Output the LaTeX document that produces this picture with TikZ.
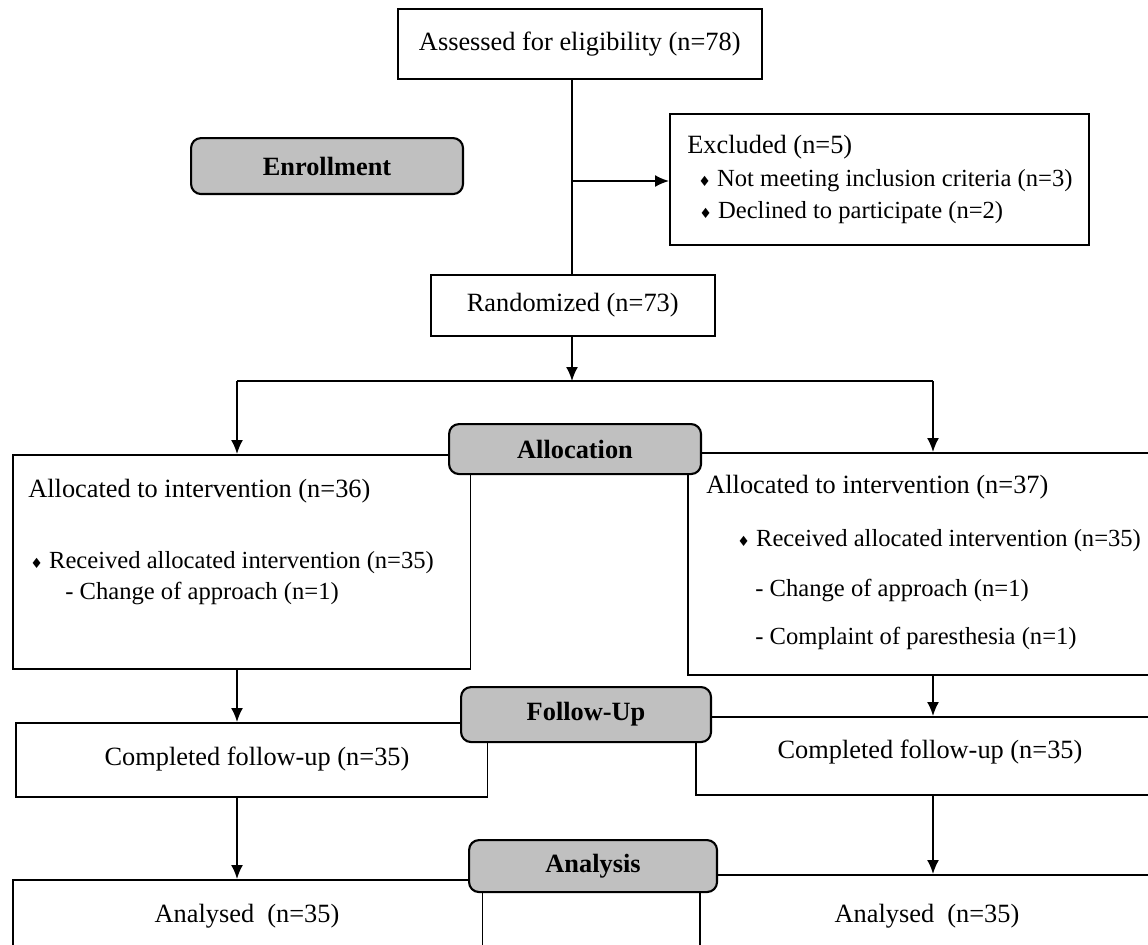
\documentclass[tikz,border=0pt]{standalone}
\usepackage{fontspec}
\setmainfont{Liberation Serif}
\newfontfamily\symf{DejaVu Sans}
\usetikzlibrary{arrows.meta}
\definecolor{labgray}{HTML}{C0C0C0}
\newcommand\dia{{\symf\fontsize{8}{8}\selectfont ♦}}
\begin{document}
\begin{tikzpicture}[x=0.02cm,y=-0.02cm,
  every node/.style={font=\fontsize{15}{18}\selectfont},
  box/.style={draw, line width=0.9pt, inner sep=0pt, anchor=north west, fill=white},
  lab/.style={draw, line width=1.2pt, fill=labgray, rounded corners=0.2cm, inner sep=0pt, anchor=north west, font=\fontsize{15}{18}\selectfont\bfseries},
  arr/.style={line width=1pt, -{Latex[length=0.28cm,width=0.24cm]}},
  ln/.style={line width=1pt},
  txt/.style={anchor=base west, inner sep=0pt},
  stxt/.style={anchor=base west, inner sep=0pt, font=\fontsize{14}{17}\selectfont},
  ctxt/.style={anchor=base, inner sep=0pt}]
\useasboundingbox (0,0) rectangle (1148,944);
\clip (0,0) rectangle (1148,944);
\fill[white] (0,0) rectangle (1148,944);

% boxes
\node[box, minimum width=7.28cm, minimum height=1.4cm] (assess) at (397,8) {Assessed for eligibility (n=78)};
\node[box, minimum width=8.38cm, minimum height=2.62cm] (excl) at (669,113) {};
\node[box, minimum width=5.68cm, minimum height=1.22cm] (rand) at (430,274) {Randomized (n=73)};
\node[box, minimum width=9.16cm, minimum height=4.28cm] (L1) at (12,454) {};
\node[box, minimum width=9.6cm, minimum height=4.44cm] (R1) at (687,452) {};
\node[box, minimum width=9.44cm, minimum height=1.48cm] (L2) at (15,722) {};
\node[box, minimum width=9.6cm, minimum height=1.56cm] (R2) at (695,716) {};
\node[box, minimum width=9.4cm, minimum height=2cm] (L3) at (12,879) {};
\node[box, minimum width=9.6cm, minimum height=2cm] (R3) at (699,874) {};

% stage labels
\node[lab, minimum width=5.44cm, minimum height=1.12cm] (enroll) at (190,137) {Enrollment};
\node[lab, minimum width=5.04cm, minimum height=1.0cm] (alloc) at (448,423) {Allocation};
\node[lab, minimum width=5.0cm, minimum height=1.1cm] (fu) at (460,686) {Follow-Up};
\node[lab, minimum width=4.96cm, minimum height=1.04cm] (an) at (468,839) {Analysis};

% texts
\node[txt] (ex0) at (687,153) {Excluded (n=5)};
\node[stxt] (ex1) at (698,186) {\dia\ Not meeting inclusion criteria (n=3)};
\node[stxt] (ex2) at (699,218) {\dia\ Declined to participate (n=2)};

\node[txt] (l1a) at (28,497) {Allocated to intervention (n=36)};
\node[stxt] (l1b) at (30,568) {\dia\ Received allocated intervention (n=35)};
\node[stxt] (l1c) at (65,599) {- Change of approach (n=1)};

\node[txt] (r1a) at (706,493) {Allocated to intervention (n=37)};
\node[stxt] (r1b) at (737,546) {\dia\ Received allocated intervention (n=35)};
\node[stxt] (r1c) at (755,596) {- Change of approach (n=1)};
\node[stxt] (r1d) at (755,644) {- Complaint of paresthesia (n=1)};

\node[ctxt] (l2t) at (257,765) {Completed follow-up (n=35)};
\node[ctxt] (r2t) at (930,758) {Completed follow-up (n=35)};
\node[ctxt] (l3t) at (247,922) {Analysed\ \ (n=35)};
\node[ctxt] (r3t) at (927,922) {Analysed\ \ (n=35)};

% connector coordinates
\coordinate (cx) at (572,0);
\coordinate (xl) at (237,0);
\coordinate (xr) at (933,0);
\coordinate (split) at (572,381);
\coordinate (br) at (572,181);

\draw[ln] (assess.south -| cx) -- (rand.north -| cx);
\draw[arr] (br) -- (excl.west |- br);
\draw[arr] (rand.south -| cx) -- (split);
\draw[ln] (split -| xl) -- (split -| xr);
\draw[arr] (split -| xl) -- (L1.north -| xl);
\draw[arr] (split -| xr) -- (R1.north -| xr);
\draw[arr] (L1.south -| xl) -- (L2.north -| xl);
\draw[arr] (R1.south -| xr) -- (R2.north -| xr);
\draw[arr] (L2.south -| xl) -- (L3.north -| xl);
\draw[arr] (R2.south -| xr) -- (R3.north -| xr);
\end{tikzpicture}
\end{document}
